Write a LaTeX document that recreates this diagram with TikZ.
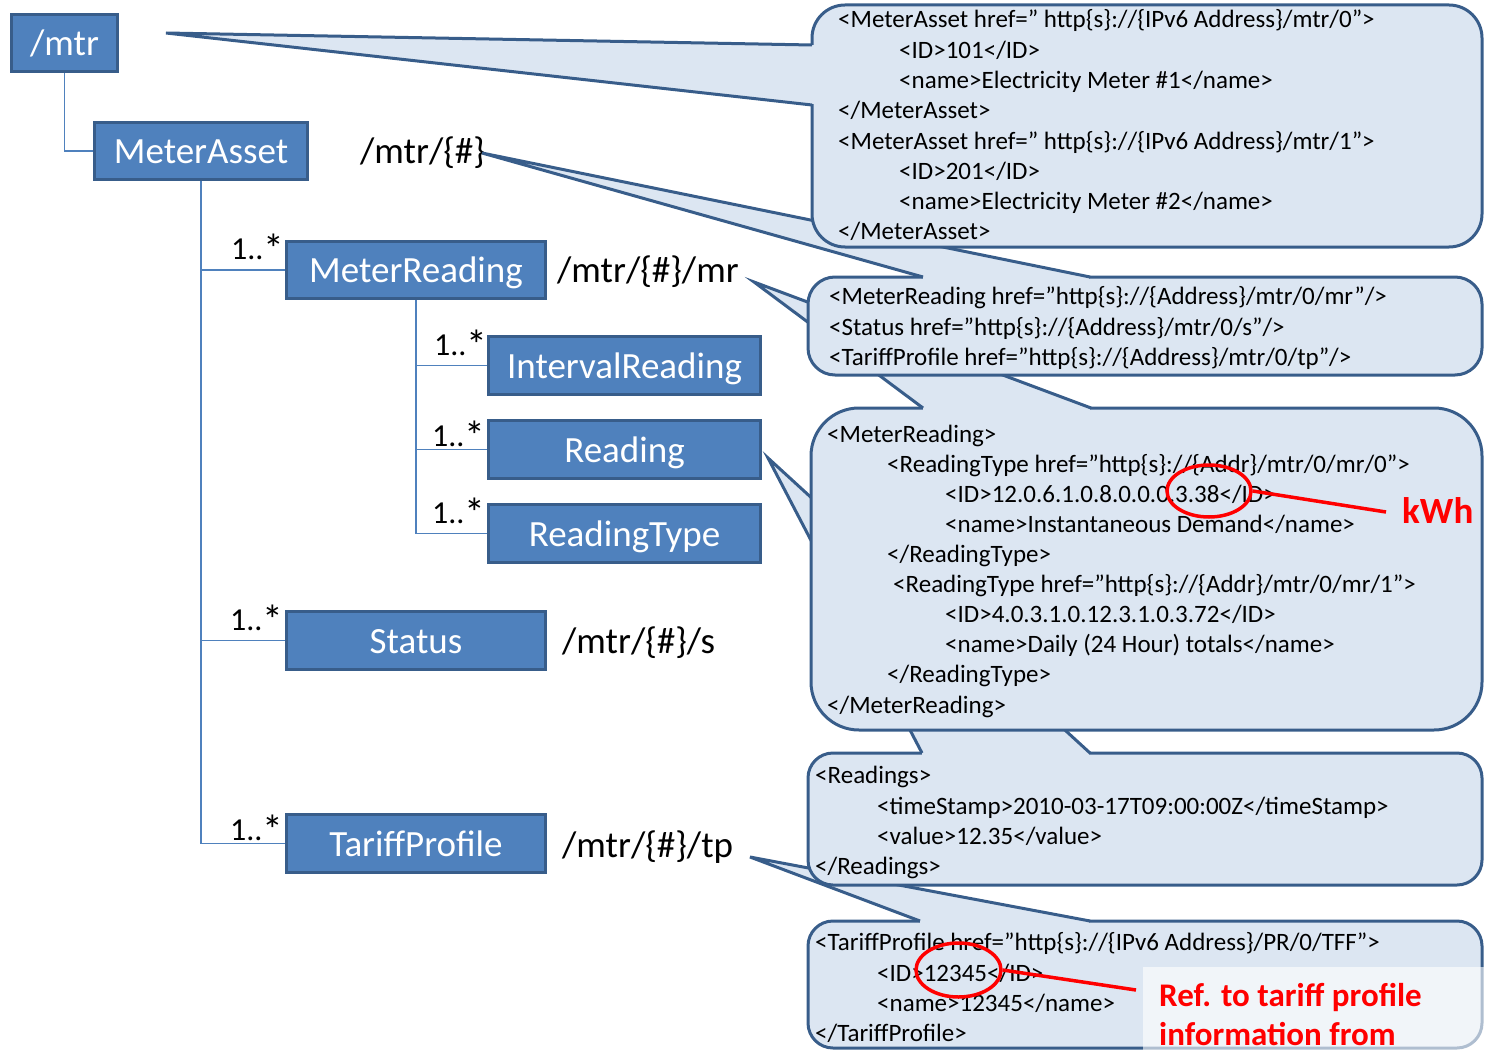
\documentclass[tikz,border=0pt]{standalone}
\usepackage{fontspec}
\setmainfont{Carlito}
\usetikzlibrary{calc,shapes.geometric}
\definecolor{boxfill}{HTML}{4F81BD}
\definecolor{boxline}{HTML}{385D8A}
\definecolor{calfill}{HTML}{DCE6F2}
\definecolor{calline}{HTML}{385D8A}
\definecolor{treeline}{HTML}{4F81BD}
\definecolor{refred}{HTML}{FF0000}
\newcommand{\multlbl}{1..\raisebox{-4pt}{\scalebox{1.3}{*}}}
\tikzset{
  tbox/.style={draw=boxline, line width=3pt, fill=boxfill, text=white,
    font=\fontsize{37}{44}\selectfont, inner sep=0pt, text height=28pt, text depth=2.6pt},
  tline/.style={draw=treeline, line width=1.5pt},
  mult/.style={anchor=base west, inner sep=0pt, font=\fontsize{32}{38}\selectfont},
  urlbl/.style={anchor=base west, inner sep=0pt, font=\fontsize{37}{44}\selectfont},
  xml/.style={anchor=base west, inner sep=0pt, font=\fontsize{25}{30}\selectfont},
  cfill/.style={fill=calfill},
  cline/.style={draw=calline, line width=3pt},
  redmark/.style={draw=refred, line width=3.5pt},
  redtxt/.style={anchor=base west, inner sep=0pt, text=refred, font=\fontsize{33}{40}\bfseries\selectfont},
}
\begin{document}
\begin{tikzpicture}[x=1pt, y=-1pt]
\useasboundingbox (0,0) rectangle (1485,1051);

% ---------------- tree ----------------
\node[tbox, minimum width=106pt, minimum height=57pt] (mtr) at (64.5,43) {/mtr};
\node[tbox, minimum width=213pt, minimum height=57pt] (ma) at (201,151) {MeterAsset};
\node[tbox, minimum width=259pt, minimum height=57pt] (mr) at (416,270) {MeterReading};
\node[tbox, minimum width=272pt, minimum height=58pt] (ir) at (624.5,365.5) {IntervalReading};
\node[tbox, minimum width=272pt, minimum height=58pt] (rd) at (624.5,449.5) {Reading};
\node[tbox, minimum width=272pt, minimum height=58pt] (rt) at (624.5,533.5) {ReadingType};
\node[tbox, minimum width=259pt, minimum height=58pt] (st) at (416,640.5) {Status};
\node[tbox, minimum width=259pt, minimum height=58pt] (tpx) at (416,843.5) {TariffProfile};

\draw[tline] (mtr.south) |- (ma.west);
\draw[tline] (ma.south) |- (mr.west);
\draw[tline] (ma.south) |- (st.west);
\draw[tline] (ma.south) |- (tpx.west);
\draw[tline] (mr.south) |- (ir.west);
\draw[tline] (mr.south) |- (rd.west);
\draw[tline] (mr.south) |- (rt.west);

\node[mult] (m1) at (231,259) {\multlbl};
\node[mult] (m2) at (434,355) {\multlbl};
\node[mult] (m3) at (432,446) {\multlbl};
\node[mult] (m4) at (432,523) {\multlbl};
\node[mult] (m5) at (230,630) {\multlbl};
\node[mult] (m6) at (230,840) {\multlbl};

\node[urlbl] (u1) at (360,164) {/mtr/\{\#\}};
\node[urlbl] (u2) at (557,282) {/mtr/\{\#\}/mr};
\node[urlbl] (u3) at (562,653) {/mtr/\{\#\}/s};
\node[urlbl] (u4) at (562,857) {/mtr/\{\#\}/tp};

% ---------------- callout 5 ----------------
\coordinate (c5tip) at (750,857);
\coordinate (c5a) at (920,921);
\coordinate (c5b) at (1090,921);
\fill[cfill] (c5a) -- (c5tip) -- (c5b) -- cycle;
\fill[cfill, rounded corners=25pt] (808,921) rectangle (1482,1048);
\draw[cline, rounded corners=25pt] (808,921) rectangle (1482,1048);
\fill[cfill] ($(c5a)+(0,-1.8)$) rectangle ($(c5b)+(-1,2)$);
\draw[cline] (c5a) -- (c5tip) -- (c5b);
\node[xml] (t51) at (815,950) {<TariffProfile href=”http\{s\}://\{IPv6 Address\}/PR/0/TFF”>};
\node[xml] (t52) at (877,981) {<ID>12345</ID>};
\node[xml] (t53) at (877,1011) {<name>12345</name>};
\node[xml] (t54) at (815,1041) {</TariffProfile>};

% ---------------- callout 4 ----------------
\coordinate (c4tip) at (768,458);
\coordinate (c4a) at (922,753);
\coordinate (c4b) at (1090,753);
\fill[cfill] (c4a) -- (c4tip) -- (c4b) -- cycle;
\fill[cfill, rounded corners=25pt] (808,753) rectangle (1482,885);
\draw[cline, rounded corners=25pt] (808,753) rectangle (1482,885);
\fill[cfill] ($(c4a)+(0,-1.8)$) rectangle ($(c4b)+(-1,2)$);
\draw[cline] (c4a) -- (c4tip) -- (c4b);
\node[xml] (t41) at (815,783) {<Readings>};
\node[xml] (t42) at (877,814) {<timeStamp>2010-03-17T09:00:00Z</timeStamp>};
\node[xml] (t43) at (877,844) {<value>12.35</value>};
\node[xml] (t44) at (815,874) {</Readings>};

% ---------------- callout 3 ----------------
\coordinate (c3tip) at (754,282);
\coordinate (c3a) at (923,408);
\coordinate (c3b) at (1091,408);
\fill[cfill] (c3a) -- (c3tip) -- (c3b) -- cycle;
\fill[cfill, rounded corners=48pt] (811,408) rectangle (1482,730);
\draw[cline, rounded corners=48pt] (811,408) rectangle (1482,730);
\fill[cfill] ($(c3a)+(0,-1.8)$) rectangle ($(c3b)+(-1,2)$);
\draw[cline] (c3a) -- (c3tip) -- (c3b);
\node[xml] (t31) at (827,442) {<MeterReading>};
\node[xml] (t32) at (887,472.1) {<ReadingType href=”http\{s\}://\{Addr\}/mtr/0/mr/0”>};
\node[xml] (t33) at (945,502.2) {<ID>12.0.6.1.0.8.0.0.0.3.38</ID>};
\node[xml] (t34) at (945,532.3) {<name>Instantaneous Demand</name>};
\node[xml] (t35) at (887,562.4) {</ReadingType>};
\node[xml] (t36) at (893,592.5) {<ReadingType href=”http\{s\}://\{Addr\}/mtr/0/mr/1”>};
\node[xml] (t37) at (945,622.6) {<ID>4.0.3.1.0.12.3.1.0.3.72</ID>};
\node[xml] (t38) at (945,652.7) {<name>Daily (24 Hour) totals</name>};
\node[xml] (t39) at (887,682.8) {</ReadingType>};
\node[xml] (t310) at (827,713) {</MeterReading>};

% ---------------- callout 2 ----------------
\coordinate (c2tip) at (482,153);
\coordinate (c2a) at (923,277);
\coordinate (c2b) at (1090,277);
\fill[cfill] (c2a) -- (c2tip) -- (c2b) -- cycle;
\fill[cfill, rounded corners=27pt] (808,277) rectangle (1482,375);
\draw[cline, rounded corners=27pt] (808,277) rectangle (1482,375);
\fill[cfill] ($(c2a)+(0,-1.8)$) rectangle ($(c2b)+(-1,2)$);
\draw[cline] (c2a) -- (c2tip) -- (c2b);
\node[xml] (t21) at (829,304) {<MeterReading href=”http\{s\}://\{Address\}/mtr/0/mr”/>};
\node[xml] (t22) at (829,335) {<Status href=”http\{s\}://\{Address\}/mtr/0/s”/>};
\node[xml] (t23) at (829,365) {<TariffProfile href=”http\{s\}://\{Address\}/mtr/0/tp”/>};

% ---------------- callout 1 ----------------
\coordinate (c1tip) at (166,33);
\coordinate (c1a) at (812,45);
\coordinate (c1b) at (812,105);
\fill[cfill] (c1a) -- (c1tip) -- (c1b) -- cycle;
\fill[cfill, rounded corners=33pt] (812,5) rectangle (1482,247);
\draw[cline, rounded corners=33pt] (812,5) rectangle (1482,247);
\fill[cfill] ($(c1a)+(-1.8,0)$) rectangle ($(c1b)+(2,-1)$);
\draw[cline] (c1a) -- (c1tip) -- (c1b);
\node[xml] (t11) at (838,28) {<MeterAsset href=” http\{s\}://\{IPv6 Address\}/mtr/0”>};
\node[xml] (t12) at (899,58.3) {<ID>101</ID>};
\node[xml] (t13) at (899,88.6) {<name>Electricity Meter \#1</name>};
\node[xml] (t14) at (838,118.9) {</MeterAsset>};
\node[xml] (t15) at (838,149.2) {<MeterAsset href=” http\{s\}://\{IPv6 Address\}/mtr/1”>};
\node[xml] (t16) at (899,179.5) {<ID>201</ID>};
\node[xml] (t17) at (899,209.8) {<name>Electricity Meter \#2</name>};
\node[xml] (t18) at (838,240) {</MeterAsset>};

% ---------------- red annotations ----------------
\node[redmark, ellipse, minimum width=84pt, minimum height=52pt, inner sep=0pt] (e1) at (1209,491) {};
\node[redtxt, font=\fontsize{37}{44}\bfseries\selectfont] (kwh) at (1402,523) {kWh};
\coordinate (kend) at (1386,512);
\draw[redmark] (e1.east) -- (kend);

\fill[white, fill opacity=0.6] (1143,967) rectangle (1485,1051);
\node[redtxt] (ref1) at (1159,1006) {Ref. to tariff profile};
\node[redtxt] (ref2) at (1159,1045) {information from};
\node[redmark, ellipse, minimum width=85pt, minimum height=54pt, inner sep=0pt] (e2) at (958.5,970) {};
\coordinate (rend) at (1136,990);
\draw[redmark] (e2.east) -- (rend);
\end{tikzpicture}
\end{document}
